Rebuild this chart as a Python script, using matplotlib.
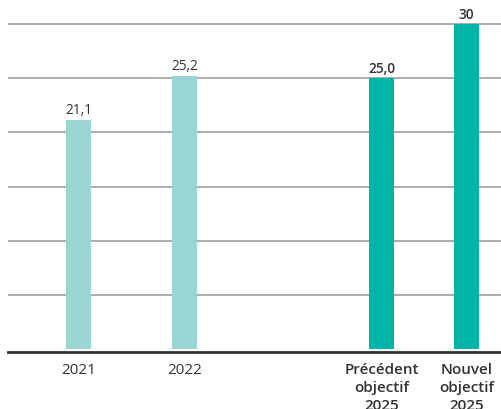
import matplotlib.pyplot as plt

plt.rcParams['font.family'] = ['Open Sans', 'DejaVu Sans']

# valeurs
categories = ['2021', '2022', 'Précédent\nobjectif\n2025', 'Nouvel\nobjectif\n2025']
values = [21.1, 25.2, 25.0, 30]
value_labels = ['21,1', '25,2', '25,0', '30']
is_target = [False, False, True, True]

# mise en page
slots = [0, 1, 2.858, 3.66]
light_teal = '#99d6d3'
dark_teal = '#00b5a8'
text_col = '#333333'

fig = plt.figure(figsize=(5.02, 4.09), dpi=100)
ax = fig.add_axes([8 / 502, (409 - 352) / 409, 494 / 502, 352 / 409])

colors = [dark_teal if t else light_teal for t in is_target]
bars = ax.bar(slots, values, width=0.236, color=colors, zorder=2)

for b, lab, t in zip(bars, value_labels, is_target):
    ax.annotate(lab, (b.get_x() + b.get_width() / 2, b.get_height()),
                xytext=(0, 1.5), textcoords='offset points', ha='center', va='bottom',
                fontsize=9.8, color=text_col, fontweight='semibold' if t else 'normal')

ax.set_xlim(-0.665, 3.995)
ax.set_ylim(-0.25, 32.2)
ax.set_yticks([5, 10, 15, 20, 25, 30])
ax.yaxis.grid(True, color='#a6a6a6', linewidth=1.3, zorder=0)
ax.set_axisbelow(True)
ax.tick_params(axis='y', left=False, labelleft=False)

ax.set_xticks(slots)
ax.set_xticklabels(categories, fontsize=11, color=text_col, linespacing=1.38)
ax.tick_params(axis='x', length=0, pad=8)
for lbl, t in zip(ax.get_xticklabels(), is_target):
    lbl.set_fontweight('semibold' if t else 'normal')

for s in ['top', 'right', 'left']:
    ax.spines[s].set_visible(False)
ax.spines['bottom'].set_color('#333333')
ax.spines['bottom'].set_linewidth(2)

fig.savefig('out.png', dpi=100)
